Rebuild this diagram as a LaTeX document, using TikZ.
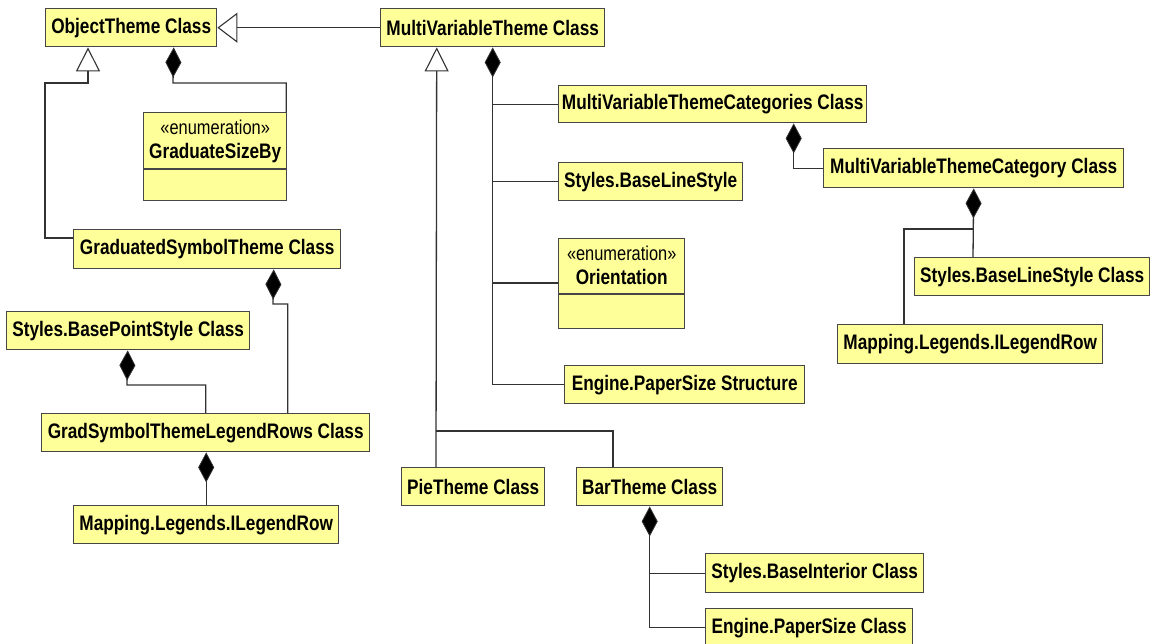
\documentclass[tikz,border=0pt]{standalone}
\usepackage{fontspec}
\setmainfont{Liberation Sans}[FakeStretch=0.82]
\usetikzlibrary{arrows.meta,calc}
\definecolor{boxfill}{RGB}{255,255,153}
\definecolor{boxedge}{RGB}{70,70,70}
\definecolor{wire}{RGB}{50,50,50}
\tikzset{
  box/.style={draw=boxedge, line width=1.4pt, fill=boxfill, rectangle, inner sep=0pt, anchor=north west,
    font=\fontsize{21}{23}\selectfont\bfseries},
  stereo/.style={inner sep=0pt, font=\fontsize{20}{22}\selectfont},
  cname/.style={inner sep=0pt, font=\fontsize{21}{23}\selectfont\bfseries},
  wireline/.style={draw=wire, line width=1.3pt},
  inh/.style={wireline, -{Triangle[open, length=24pt, width=24pt, fill=white, line width=1.1pt]}},
  inhh/.style={wireline, -{Triangle[open, length=20pt, width=30pt, fill=white, line width=1.1pt]}},
  comp/.style={wireline, -{Diamond[length=30pt, width=16pt, fill=black, line width=0.8pt]}},
}
\begin{document}
\begin{tikzpicture}[x=1pt, y=-1pt]
\useasboundingbox (0,0) rectangle (1153,643);
% class boxes
\node[box, minimum width=171, minimum height=38] (ot) at (45,8) {ObjectTheme Class};
\node[box, minimum width=224, minimum height=38] (mvt) at (380,8) {MultiVariableTheme Class};
\node[box, minimum width=267, minimum height=39] (gst) at (73,229) {GraduatedSymbolTheme Class};
\node[box, minimum width=243, minimum height=38] (bps) at (6,311) {Styles.BasePointStyle Class};
\node[box, minimum width=328, minimum height=38] (gstlr) at (41,413) {GradSymbolThemeLegendRows Class};
\node[box, minimum width=265, minimum height=38] (mlr1) at (73,505) {Mapping.Legends.ILegendRow};
\node[box, minimum width=308, minimum height=37] (mvtcs) at (558,85) {MultiVariableThemeCategories Class};
\node[box, minimum width=184, minimum height=38] (bls) at (558,162) {Styles.BaseLineStyle};
\node[box, minimum width=240, minimum height=38] (eps) at (564,365) {Engine.PaperSize Structure};
\node[box, minimum width=143, minimum height=38] (pie) at (401,467) {PieTheme Class};
\node[box, minimum width=146, minimum height=38] (bar) at (576,467) {BarTheme Class};
\node[box, minimum width=218, minimum height=39] (bi) at (705,553) {Styles.BaseInterior Class};
\node[box, minimum width=207, minimum height=38] (epc) at (705,608) {Engine.PaperSize Class};
\node[box, minimum width=300, minimum height=39] (mvtc) at (823,148) {MultiVariableThemeCategory Class};
\node[box, minimum width=235, minimum height=38] (blsc) at (914,257) {Styles.BaseLineStyle Class};
\node[box, minimum width=265, minimum height=39] (mlr2) at (837,324) {Mapping.Legends.ILegendRow};
% enumeration boxes
\node[box, minimum width=143, minimum height=88] (gsb) at (143,112) {};
\node[stereo] (gsbs) at ([yshift=-15]gsb.north) {«enumeration»};
\node[cname] (gsbn) at ([yshift=-41]gsb.north) {GraduateSizeBy};
\draw[draw=boxedge, line width=1.4pt] ([yshift=-57]gsb.north west) -- ([yshift=-57]gsb.north east);
\node[box, minimum width=126, minimum height=90] (ori) at (558,238) {};
\node[stereo] (oris) at ([yshift=-15]ori.north) {«enumeration»};
\node[cname] (orin) at ([yshift=-39]ori.north) {Orientation};
\draw[draw=boxedge, line width=1.4pt] ([yshift=-56]ori.north west) -- ([yshift=-56]ori.north east);
% inheritance
\draw[inhh] (mvt.west) -- (ot.east);
\draw[inh] ([yshift=-9]gst.north west) -- ++(-28,0) |- (88,83) -- ([xshift=43]ot.south west);
\draw[inh] ([xshift=35]pie.north west) -- ([xshift=-56]mvt.south);
\draw[wireline] ([xshift=37]bar.north west) |- (436,431);
% compositions
\draw[comp] ([xshift=71]gsb.north) |- (173,83) -- ([xshift=42.5]ot.south);
\draw[comp] ([xshift=82]gstlr.north) |- (273,304) -- ([xshift=66.5]gst.south);
\draw[comp] (gstlr.north) |- (127,385) -- ([xshift=-0.5]bps.south);
\draw[comp] (mlr1.north) -- (mlr1.north |- gstlr.south);
\draw[comp] (eps.west) -| (mvt.south);
\draw[wireline] (mvtcs.west) -- (mvtcs.west -| mvt.south);
\draw[wireline] (bls.west) -- (bls.west -| mvt.south);
\draw[wireline] ([yshift=-45]ori.north west) -- ++(-66,0);
\draw[comp] (epc.west) -| (bar.south);
\draw[wireline] (bi.west) -- (bi.west -| bar.south);
\draw[comp] (mvtc.west) -| ([xshift=81]mvtcs.south);
\draw[comp] ([xshift=59]blsc.north west) -- (mvtc.south);
\draw[wireline] ([xshift=67]mlr2.north west) |- (973,229);
\end{tikzpicture}
\end{document}
